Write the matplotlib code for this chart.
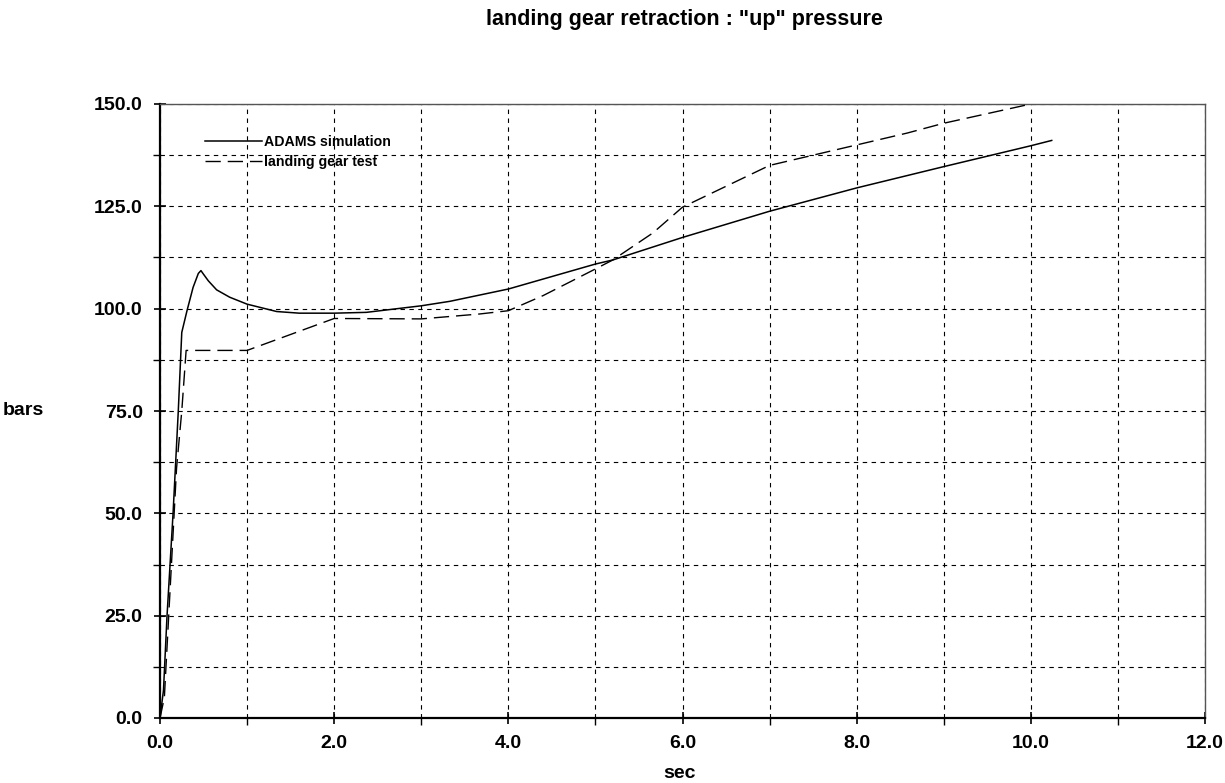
import numpy as np
import matplotlib
matplotlib.use("Agg")
import matplotlib.pyplot as plt
from matplotlib.ticker import MultipleLocator, FormatStrFormatter

plt.rcParams["font.family"] = ["Liberation Sans", "DejaVu Sans"]
plt.rcParams["font.weight"] = "bold"

# ---- data ----
sim_t = [0, 0.04, 0.08, 0.15, 0.21, 0.25, 0.31, 0.38, 0.44, 0.47, 0.5, 0.555,
         0.65, 0.8, 1.0, 1.34, 1.6, 2.0, 2.37, 3.0, 3.33, 4.0, 5.0, 5.2, 6.0,
         7.0, 8.0, 9.0, 10.0, 10.24]
sim_p = [0, 6.8, 24.7, 50.0, 75.0, 94.2, 99.5, 105.2, 108.6, 109.3, 108.4, 106.8,
         104.6, 102.8, 101.1, 99.3, 98.9, 98.9, 99.1, 100.7, 101.8, 104.8, 110.9,
         111.9, 117.4, 123.8, 129.5, 134.7, 139.8, 141.1]

test_t = [0, 0.05, 0.1, 0.19, 0.25, 0.3, 1.0, 2.0, 3.0, 3.67, 4.0, 4.4, 5.0,
          5.2, 5.66, 6.0, 7.0, 8.0, 8.58, 9.0, 10.0]
test_p = [0, 5.0, 25.0, 61.0, 75.0, 89.8, 89.8, 97.6, 97.5, 98.7, 99.5, 103.2,
          109.7, 111.9, 118.5, 124.8, 135.0, 140.0, 142.9, 145.3, 150.0]

# ---- figure ----
fig = plt.figure(figsize=(12.25, 7.83), dpi=100)
ax = fig.add_axes([160 / 1225, 1 - 718 / 783, 1045 / 1225, 614 / 783])

ax.plot(sim_t, sim_p, color="black", linewidth=1.1, label="ADAMS simulation",
        zorder=3)
ax.plot(test_t, test_p, color="black", linewidth=1.0, linestyle=(0, (11, 5)),
        label="landing gear test", zorder=3, clip_on=False)

ax.set_xlim(0, 12)
ax.set_ylim(0, 150)
ax.xaxis.set_major_locator(MultipleLocator(2))
ax.xaxis.set_minor_locator(MultipleLocator(1))
ax.yaxis.set_major_locator(MultipleLocator(25))
ax.yaxis.set_minor_locator(MultipleLocator(12.5))
ax.xaxis.set_major_formatter(FormatStrFormatter("%.1f"))
ax.yaxis.set_major_formatter(FormatStrFormatter("%.1f"))

ax.grid(True, which="both", color="black", linestyle=(0, (4, 4)), linewidth=0.8)
ax.set_axisbelow(True)
ax.tick_params(which="major", direction="inout", length=9, width=1.2,
               labelsize=14, pad=8)
ax.tick_params(which="minor", direction="out", length=5, width=1.0)
for lbl in ax.get_xticklabels() + ax.get_yticklabels():
    lbl.set_fontweight("bold")

for side in ["left", "bottom"]:
    ax.spines[side].set_linewidth(1.6)
    ax.spines[side].set_color("black")
for side in ["top", "right"]:
    ax.spines[side].set_linewidth(1.0)
    ax.spines[side].set_color("#555555")

leg = ax.legend(loc="upper left", bbox_to_anchor=(0.043, 0.95), frameon=False,
                fontsize=10.2, handlelength=4.0, handletextpad=0.2,
                labelspacing=0.45, borderaxespad=0, borderpad=0)
for txt in leg.get_texts():
    txt.set_fontweight("bold")

fig.text(684 / 1225, 1 - 20 / 783, 'landing gear retraction : "up" pressure',
         ha="center", va="center", fontsize=15.5, fontweight="bold")
fig.text(3 / 1225, 1 - 410 / 783, "bars", ha="left", va="center",
         fontsize=14, fontweight="bold")
fig.text(680 / 1225, 1 - 773 / 783, "sec", ha="center", va="center",
         fontsize=14, fontweight="bold")

fig.savefig("out.png", dpi=100, facecolor="white")
plt.close(fig)
